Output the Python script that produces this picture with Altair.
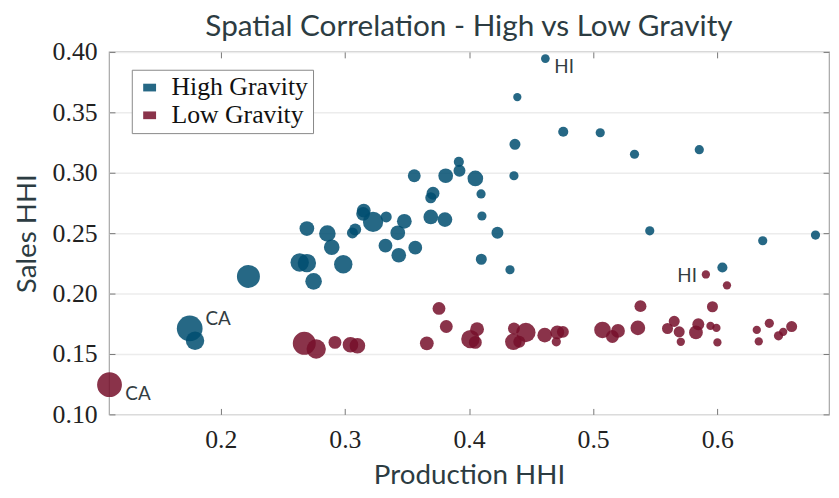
import altair as alt
import pandas as pd

# ---- data ----
high_x = [0.1750, 0.1793, 0.2223, 0.2636, 0.2694, 0.2748, 0.2694, 0.2859, 0.2894, 0.2987,
          0.3061, 0.3083, 0.3152, 0.3147, 0.3227, 0.3333, 0.3327, 0.3426, 0.3479, 0.3434,
          0.3567, 0.3559, 0.3692, 0.3710, 0.3692, 0.3806, 0.3812, 0.3918, 0.3923, 0.4051,
          0.4097, 0.4104, 0.4229, 0.4099, 0.4330, 0.4362, 0.4370, 0.4389, 0.4615, 0.4759,
          0.5057, 0.5333, 0.5855, 0.5456, 0.6366, 0.6791, 0.6041]
high_y = [0.1711, 0.1609, 0.2142, 0.2257, 0.2252, 0.2101, 0.2538, 0.2497, 0.2383, 0.2243,
          0.2502, 0.2530, 0.2687, 0.2660, 0.2593, 0.2634, 0.2396, 0.2503, 0.2598, 0.2317,
          0.2380, 0.2975, 0.2634, 0.2830, 0.2793, 0.2612, 0.2975, 0.3090, 0.3016, 0.2953,
          0.2825, 0.2642, 0.2503, 0.2284, 0.2197, 0.2975, 0.3235, 0.3626, 0.3945, 0.3339,
          0.3331, 0.3153, 0.3191, 0.2519, 0.2437, 0.2484, 0.2216]
high_w = [7.84, 4.00, 6.25, 4.00, 4.00, 3.24, 2.56, 3.24, 2.89, 4.00,
          1.44, 1.69, 2.25, 2.25, 4.84, 1.44, 2.25, 2.56, 2.56, 2.56,
          2.25, 1.96, 2.56, 1.96, 1.44, 2.56, 2.56, 1.21, 1.69, 2.89,
          1.00, 1.00, 1.69, 1.44, 1.00, 1.00, 1.44, 0.81, 0.90, 1.21,
          1.00, 1.00, 1.00, 1.00, 1.00, 1.00, 1.21]

low_x = [0.1104, 0.2673, 0.2769, 0.2920, 0.3045, 0.3101, 0.3660, 0.3758, 0.3817, 0.4011,
         0.4065, 0.4051, 0.4362, 0.4458, 0.4357, 0.4405, 0.4610, 0.4711, 0.4756, 0.4703,
         0.5075, 0.5155, 0.5200, 0.5381, 0.5360, 0.5599, 0.5653, 0.5693, 0.5706, 0.5828,
         0.5847, 0.5961, 0.5945, 0.5993, 0.6001, 0.6318, 0.6419, 0.6334, 0.6493, 0.6531,
         0.6599, 0.5908, 0.6078]
low_y = [0.1246, 0.1588, 0.1541, 0.1596, 0.1576, 0.1568, 0.1588, 0.1877, 0.1727, 0.1623,
         0.1705, 0.1596, 0.1711, 0.1678, 0.1601, 0.1601, 0.1656, 0.1678, 0.1683, 0.1601,
         0.1699, 0.1645, 0.1691, 0.1896, 0.1716, 0.1711, 0.1770, 0.1683, 0.1601, 0.1678,
         0.1746, 0.1891, 0.1732, 0.1716, 0.1596, 0.1699, 0.1754, 0.1604, 0.1650, 0.1683,
         0.1727, 0.2158, 0.2068]
low_w = [7.29, 6.25, 4.41, 1.96, 2.89, 2.89, 2.25, 1.96, 1.96, 4.00,
         2.25, 1.96, 1.69, 4.41, 3.24, 1.69, 2.56, 2.25, 1.69, 1.00,
         3.24, 1.96, 2.25, 1.69, 2.56, 1.44, 1.44, 1.44, 0.81, 2.25,
         1.69, 1.44, 0.81, 0.81, 0.81, 0.81, 1.00, 0.81, 1.00, 0.81,
         1.44, 0.81, 0.81]

groups = ["High Gravity", "Low Gravity"]
colors = ["#004d70", "#750f2a"]

# labelled states
lab_text = ["CA", "CA", "HI", "HI"]
lab_x = [0.1750, 0.1104, 0.4615, 0.5908]
lab_y = [0.1711, 0.1246, 0.3945, 0.2158]

x_ticks = [0.2, 0.3, 0.4, 0.5, 0.6]
y_ticks = [0.10, 0.15, 0.20, 0.25, 0.30, 0.35, 0.40]

df = pd.concat([
    pd.DataFrame({"x": high_x, "y": high_y, "w": high_w, "group": groups[0]}),
    pd.DataFrame({"x": low_x, "y": low_y, "w": low_w, "group": groups[1]}),
], ignore_index=True)
labels = pd.DataFrame({"text": lab_text, "x": lab_x, "y": lab_y})

xscale = alt.Scale(domain=[0.11, 0.69], nice=False, zero=False)
yscale = alt.Scale(domain=[0.10, 0.40], nice=False, zero=False)

SANS = "Lato"
SERIF = "Liberation Serif"
DARK = "#2c3c42"
FRAME = "#a6a6a6"

points = alt.Chart(df).mark_circle(opacity=0.85, strokeWidth=0).encode(
    x=alt.X("x:Q", scale=xscale, title="Production HHI",
            axis=alt.Axis(values=x_ticks, format=".1f", orient="bottom", grid=False,
                          domain=False, tickSize={"expr": "-6"}, tickColor="#777",
                          labelPadding=18, labelFont=SERIF, labelFontSize=26,
                          labelColor="#222", titleFont=SANS, titleFontSize=28,
                          titleFontWeight="normal", titleColor=DARK, titlePadding=10)),
    y=alt.Y("y:Q", scale=yscale, title="Sales HHI",
            axis=alt.Axis(values=y_ticks, format=".2f", orient="left", grid=True,
                          gridColor="#ececec", gridWidth=1.5, domain=False,
                          tickSize={"expr": "-6"}, tickColor="#777",
                          labelPadding=18, labelFont=SERIF, labelFontSize=26,
                          labelColor="#222", titleFont=SANS, titleFontSize=28,
                          titleFontWeight="normal", titleColor=DARK, titlePadding=11)),
    color=alt.Color("group:N", scale=alt.Scale(domain=groups, range=colors),
                    legend=alt.Legend(title=None, orient="none", legendX=23, legendY=18,
                                      symbolType="M-1,-0.6H1V0.6H-1Z", symbolSize=169,
                                      symbolOpacity=0.85, symbolStrokeWidth=0,
                                      labelFont=SERIF, labelFontSize=26, labelColor="#111",
                                      labelOffset=9, rowPadding=2, padding=5,
                                      strokeColor="#888", fillColor="white")),
    size=alt.Size("w:Q", scale=alt.Scale(domain=[0, 8], range=[0, 690], zero=True),
                  legend=None),
)

frame_axes = alt.Chart(df).mark_point(opacity=0).encode(
    x=alt.X("x:Q", scale=xscale, title=None,
            axis=alt.Axis(values=x_ticks, orient="top", labels=False, grid=False,
                          domain=False, tickSize={"expr": "-6"}, tickColor="#777")),
    y=alt.Y("y:Q", scale=yscale, title=None,
            axis=alt.Axis(values=y_ticks, orient="right", labels=False, grid=False,
                          domain=False, tickSize={"expr": "-6"}, tickColor="#777")),
)

def label_layer(i, align, dx, dy):
    return alt.Chart(labels).transform_filter(
        (alt.datum.x == lab_x[i]) & (alt.datum.y == lab_y[i])
    ).mark_text(font=SANS, fontSize=19, color="#333d42", align=align,
                baseline="middle", dx=dx, dy=dy).encode(
        x=alt.X("x:Q", scale=xscale, axis=None),
        y=alt.Y("y:Q", scale=yscale, axis=None),
        text="text:N",
    )

texts = [
    label_layer(0, "left", 16, -10),
    label_layer(1, "left", 16, 9),
    label_layer(2, "left", 9, 9),
    label_layer(3, "right", -9, 2),
]

chart = alt.layer(points, frame_axes, *texts).resolve_axis(
    x="independent", y="independent"
).properties(
    width=727, height=366,
    autosize=alt.AutoSizeParams(type="none"),
    padding={"left": 102, "top": 42, "right": 2, "bottom": 74},
    title=alt.TitleParams("Spatial Correlation - High vs Low Gravity", font=SANS,
                          fontSize=30, fontWeight="normal", color=DARK, offset=-3,
                          anchor="middle"),
).configure_view(stroke=FRAME, strokeWidth=1.2)

chart.save("out.html", embed_options={"renderer": "svg", "actions": False})
